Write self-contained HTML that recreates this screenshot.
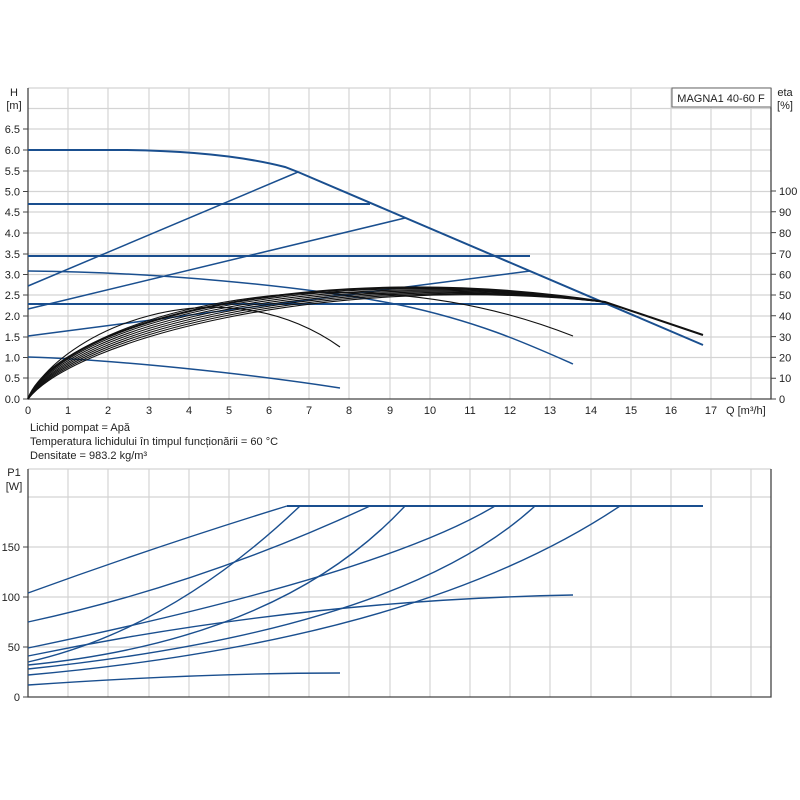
<!DOCTYPE html>
<html><head><meta charset="utf-8"><style>
html,body{margin:0;padding:0;background:#fff;}
svg{display:block;font-family:"Liberation Sans",sans-serif;}
</style></head><body>
<svg width="800" height="800" viewBox="0 0 800 800" xmlns="http://www.w3.org/2000/svg">
<rect width="800" height="800" fill="#fff"/>
<g stroke="#d4d4d4" stroke-width="1.2">
<line x1="28" y1="108.5" x2="771" y2="108.5"/><line x1="28" y1="129" x2="771" y2="129"/><line x1="28" y1="150" x2="771" y2="150"/><line x1="28" y1="171" x2="771" y2="171"/><line x1="28" y1="191.5" x2="771" y2="191.5"/><line x1="28" y1="212" x2="771" y2="212"/><line x1="28" y1="233" x2="771" y2="233"/><line x1="28" y1="254" x2="771" y2="254"/><line x1="28" y1="274.5" x2="771" y2="274.5"/><line x1="28" y1="295" x2="771" y2="295"/><line x1="28" y1="316" x2="771" y2="316"/><line x1="28" y1="337" x2="771" y2="337"/><line x1="28" y1="357.5" x2="771" y2="357.5"/><line x1="28" y1="378" x2="771" y2="378"/>
<line x1="28" y1="88" x2="771" y2="88"/>
<line x1="28" y1="497" x2="771" y2="497"/><line x1="28" y1="547" x2="771" y2="547"/><line x1="28" y1="597" x2="771" y2="597"/><line x1="28" y1="647" x2="771" y2="647"/>
<line x1="28" y1="469" x2="771" y2="469"/>
</g>
<g stroke="#d4d4d4" stroke-width="1.2">
<path d="M68 88V399M108 88V399M149 88V399M189 88V399M229 88V399M269 88V399M309 88V399M349 88V399M390 88V399M430 88V399M470 88V399M510 88V399M550 88V399M591 88V399M631 88V399M671 88V399M711 88V399M751 88V399"/>
<path d="M68 469V697M108 469V697M149 469V697M189 469V697M229 469V697M269 469V697M309 469V697M349 469V697M390 469V697M430 469V697M470 469V697M510 469V697M550 469V697M591 469V697M631 469V697M671 469V697M711 469V697M751 469V697"/>
</g>
<g stroke="#444" stroke-width="1.3" fill="none">
<path d="M28 88V399H771V88"/>
<path d="M28 469V697H771V469"/>
</g>
<g stroke="#444" stroke-width="1">
<path d="M23 399H28M23 378H28M23 357.5H28M23 337H28M23 316H28M23 295H28M23 274.5H28M23 254H28M23 233H28M23 212H28M23 191.5H28M23 171H28M23 150H28M23 129H28"/>
<path d="M771 399H776M771 378.2H776M771 357.4H776M771 336.6H776M771 315.8H776M771 295H776M771 274.2H776M771 253.4H776M771 232.6H776M771 211.8H776M771 191H776"/>
<path d="M23 697H28M23 647H28M23 597H28M23 547H28"/>
</g>
<g font-size="11" fill="#222" text-anchor="end">
<text x="20" y="403">0.0</text><text x="20" y="382">0.5</text><text x="20" y="361.5">1.0</text><text x="20" y="341">1.5</text><text x="20" y="320">2.0</text><text x="20" y="299">2.5</text><text x="20" y="278.5">3.0</text><text x="20" y="258">3.5</text><text x="20" y="237">4.0</text><text x="20" y="216">4.5</text><text x="20" y="195.5">5.0</text><text x="20" y="175">5.5</text><text x="20" y="154">6.0</text><text x="20" y="133">6.5</text>
<text x="20" y="701">0</text><text x="20" y="651">50</text><text x="20" y="601">100</text><text x="20" y="551">150</text>
</g>
<g font-size="11" fill="#222" text-anchor="middle">
<text x="14" y="96">H</text><text x="14" y="109">[m]</text>
<text x="14" y="476">P1</text><text x="14" y="490">[W]</text>
<text x="785" y="96">eta</text><text x="785" y="109">[%]</text>
<text x="28" y="414">0</text><text x="68" y="414">1</text><text x="108" y="414">2</text><text x="149" y="414">3</text><text x="189" y="414">4</text><text x="229" y="414">5</text><text x="269" y="414">6</text><text x="309" y="414">7</text><text x="349" y="414">8</text><text x="390" y="414">9</text><text x="430" y="414">10</text><text x="470" y="414">11</text><text x="510" y="414">12</text><text x="550" y="414">13</text><text x="591" y="414">14</text><text x="631" y="414">15</text><text x="671" y="414">16</text><text x="711" y="414">17</text>
</g>
<g font-size="11" fill="#222">
<text x="726" y="414">Q [m³/h]</text>
<text x="779" y="403">0</text><text x="779" y="382">10</text><text x="779" y="361.5">20</text><text x="779" y="341">30</text><text x="779" y="320">40</text><text x="779" y="299">50</text><text x="779" y="278.5">60</text><text x="779" y="258">70</text><text x="779" y="237">80</text><text x="779" y="216">90</text><text x="779" y="195">100</text>
<text x="30" y="431">Lichid pompat = Apă</text>
<text x="30" y="445">Temperatura lichidului în timpul funcționării = 60 °C</text>
<text x="30" y="459">Densitate = 983.2 kg/m³</text>
</g>
<rect x="672" y="88" width="99" height="19" fill="#fff" stroke="#666" stroke-width="1"/>
<text x="721" y="102" font-size="11" fill="#222" text-anchor="middle">MAGNA1 40-60 F</text>
<g stroke="#1a4f8f" stroke-width="1.5" fill="none">
<path d="M28 150H125C200 151 250 158 285 167L298 172L703 345" stroke-width="2"/>
<path d="M28 204H370" stroke-width="2"/>
<path d="M28 256H530" stroke-width="2"/>
<path d="M28 304H610" stroke-width="2"/>
<path d="M28 286L298 172"/>
<path d="M28 309L405 218"/>
<path d="M28 336L530 271"/>
<path d="M28 271C150 272 300 285 400 305C480 322 530 345 573 364"/>
<path d="M28 357C120 360 250 374 340 388"/>
</g>
<g stroke="#111" stroke-width="1.1" fill="none">
<path d="M28 399C60 330 220 262 340 347"/>
<path d="M28 399C60 322 330 240 573 336"/>
<path d="M28 399C60 320 320 258 605 302L703 335" stroke-width="2"/>
<path d="M28 399C62 323 320 260 605 302"/>
<path d="M28 399C64 326 320 262 605 302"/>
<path d="M28 399C66 329 320 264 605 302"/>
<path d="M28 399C68 332 320 266 605 302"/>
<path d="M28 399C70 335 320 268 605 302"/>
<path d="M28 399C72 338 320 270 605 302"/>
<path d="M28 399C74 341 320 272 605 302"/>
</g>
<g stroke="#1a4f8f" stroke-width="1.4" fill="none">
<path d="M287 506H703" stroke-width="2"/>
<path d="M28 593Q160 545 287 506"/>
<path d="M28 622Q200 585 370 506"/>
<path d="M28 662Q170 630 300 506"/>
<path d="M28 665Q280 640 405 506"/>
<path d="M28 648Q380 575 495 506"/>
<path d="M28 669Q400 630 535 506"/>
<path d="M28 675Q420 640 620 506"/>
<path d="M28 656Q300 600 573 595"/>
<path d="M28 685Q200 673 340 673"/>
</g>
</svg>
</body></html>
